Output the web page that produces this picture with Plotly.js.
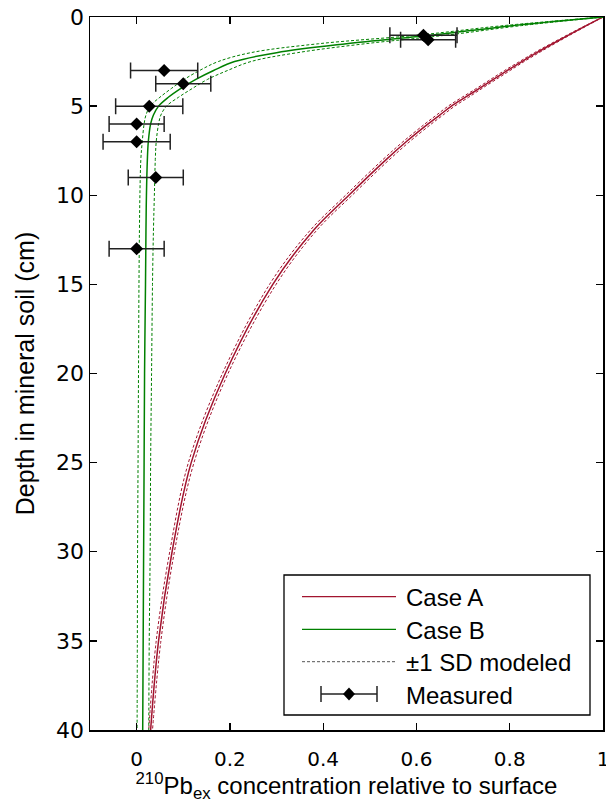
<!DOCTYPE html>
<html>
<head>
<meta charset="utf-8">
<script src="https://cdn.plot.ly/plotly-3.0.1.min.js"></script>
<style>html,body{margin:0;padding:0;background:#fff;}#chart{width:606px;height:803px;}</style>
</head>
<body>
<div id="chart"></div>
<script>
// ---- data ----
var depth = [0, 0.5, 1, 1.5, 2, 2.5, 3, 3.5, 4, 4.5, 5, 5.5, 6, 7, 8, 10, 12, 15, 20, 25, 30, 35, 40];

var caseA    = [1.000, 0.963, 0.927, 0.892, 0.858, 0.826, 0.795, 0.765, 0.735, 0.705, 0.675, 0.650, 0.625, 0.578, 0.535, 0.455, 0.378, 0.292, 0.190, 0.117, 0.076, 0.047, 0.030];
var caseA_lo = [1.000, 0.961, 0.924, 0.888, 0.853, 0.821, 0.789, 0.759, 0.729, 0.698, 0.668, 0.643, 0.618, 0.571, 0.528, 0.448, 0.371, 0.285, 0.184, 0.111, 0.071, 0.042, 0.026];
var caseA_hi = [1.000, 0.965, 0.930, 0.896, 0.863, 0.831, 0.801, 0.771, 0.741, 0.712, 0.682, 0.657, 0.632, 0.585, 0.542, 0.462, 0.385, 0.299, 0.196, 0.123, 0.081, 0.052, 0.034];

var caseB    = [1.000, 0.800, 0.640, 0.450, 0.300, 0.210, 0.165, 0.127, 0.095, 0.068, 0.047, 0.036, 0.030, 0.025, 0.023, 0.021, 0.020, 0.019, 0.017, 0.016, 0.015, 0.014, 0.013];
var caseB_lo = [1.000, 0.780, 0.610, 0.390, 0.245, 0.175, 0.135, 0.102, 0.075, 0.050, 0.029, 0.020, 0.016, 0.012, 0.009, 0.007, 0.006, 0.005, 0.004, 0.003, 0.002, 0.0015, 0.001];
var caseB_hi = [1.000, 0.820, 0.670, 0.490, 0.345, 0.245, 0.195, 0.152, 0.120, 0.090, 0.064, 0.052, 0.047, 0.042, 0.040, 0.038, 0.036, 0.034, 0.032, 0.030, 0.029, 0.027, 0.026];

var measDepth = [1.03, 1.27, 3.0, 3.75, 5.0, 6.0, 7.0, 9.0, 13.0];
var measValue = [0.615, 0.625, 0.059, 0.100, 0.027, 0.000, 0.000, 0.041, 0.000];
var measErr   = [0.072, 0.059, 0.072, 0.059, 0.072, 0.059, 0.072, 0.059, 0.059];

var xTicks = [0, 0.2, 0.4, 0.6, 0.8, 1];
var yTicks = [0, 5, 10, 15, 20, 25, 30, 35, 40];

var legendLabels = ['Case A', 'Case B', '\u00B11 SD modeled', 'Measured'];

// ---- styling ----
var RED = '#a2142f', GREEN = '#008000';
var TICKFONT = 'DejaVu Sans, sans-serif';
var TEXTFONT = 'Liberation Sans, Arial, sans-serif';
var W = 606, H = 803, ML = 90, MR = 3, MT = 17, MB = 73;
var PW = W - ML - MR, PH = H - MT - MB;
function px(p) { return (p - ML) / PW; }
function py(p) { return (H - MB - p) / PH; }

function curve(xs, color, width, dash) {
  return {x: xs, y: depth, type: 'scatter', mode: 'lines', showlegend: false, hoverinfo: 'skip',
          line: {color: color, width: width, dash: dash, shape: 'spline', smoothing: 1}};
}

var traces = [
  curve(caseA_lo, RED, 1, '3px,2px'),
  curve(caseA_hi, RED, 1, '3px,2px'),
  curve(caseA, RED, 1.5, 'solid'),
  curve(caseB_lo, GREEN, 1, '3px,2px'),
  curve(caseB_hi, GREEN, 1, '3px,2px'),
  curve(caseB, GREEN, 1.5, 'solid'),
  {x: measValue, y: measDepth, type: 'scatter', mode: 'markers', showlegend: false,
   marker: {symbol: 'diamond', size: 10, color: '#000'},
   error_x: {type: 'data', array: measErr, visible: true, color: '#222', thickness: 1.5, width: 8}}
];

// ---- custom legend (box + glyphs + labels) ----
var lgX0 = 284, lgX1 = 590, lgY0 = 575, lgY1 = 715;
var rowY = [596.7, 629.3, 661.7, 694];
var shapes = [
  {type: 'rect', xref: 'paper', yref: 'paper', x0: px(lgX0), x1: px(lgX1), y0: py(lgY1), y1: py(lgY0),
   line: {color: '#000', width: 1.3}, fillcolor: '#fff', layer: 'above'},
  {type: 'line', xref: 'paper', yref: 'paper', x0: px(302), x1: px(396), y0: py(rowY[0]), y1: py(rowY[0]),
   line: {color: RED, width: 1.3}, layer: 'above'},
  {type: 'line', xref: 'paper', yref: 'paper', x0: px(302), x1: px(396), y0: py(rowY[1]), y1: py(rowY[1]),
   line: {color: GREEN, width: 1.3}, layer: 'above'},
  {type: 'line', xref: 'paper', yref: 'paper', x0: px(302), x1: px(396), y0: py(rowY[2]), y1: py(rowY[2]),
   line: {color: '#555', width: 1, dash: '3px,2px'}, layer: 'above'},
  {type: 'line', xref: 'paper', yref: 'paper', x0: px(321), x1: px(377), y0: py(rowY[3]), y1: py(rowY[3]),
   line: {color: '#222', width: 1.5}, layer: 'above'},
  {type: 'line', xref: 'paper', yref: 'paper', x0: px(321), x1: px(321), y0: py(rowY[3] - 8), y1: py(rowY[3] + 8),
   line: {color: '#222', width: 1.5}, layer: 'above'},
  {type: 'line', xref: 'paper', yref: 'paper', x0: px(377), x1: px(377), y0: py(rowY[3] - 8), y1: py(rowY[3] + 8),
   line: {color: '#222', width: 1.5}, layer: 'above'},
  {type: 'path', xref: 'paper', yref: 'paper', xsizemode: 'pixel', ysizemode: 'pixel',
   xanchor: px(349), yanchor: py(rowY[3]), path: 'M0,6.5L6,0L0,-6.5L-6,0Z',
   fillcolor: '#000', line: {width: 0}, layer: 'above'}
];
var annotations = legendLabels.map(function (t, i) {
  return {text: t, xref: 'paper', yref: 'paper', x: px(404), y: py(rowY[i] + 1), xanchor: 'left', yanchor: 'middle',
          showarrow: false, font: {family: TEXTFONT, size: 24, color: '#000'}};
});

var axisCommon = {
  showline: true, linecolor: '#000', linewidth: 1.5, mirror: 'allticks',
  ticks: 'inside', ticklen: 7, tickwidth: 1.3, tickcolor: '#000',
  showgrid: false, zeroline: false, ticklabeloverflow: 'allow'
};

var layout = {
  width: W, height: H,
  margin: {l: ML, r: MR, t: MT, b: MB},
  paper_bgcolor: '#fff', plot_bgcolor: '#fff',
  showlegend: false,
  xaxis: Object.assign({}, axisCommon, {
    range: [-0.1, 1], tickvals: xTicks, ticktext: xTicks.map(String),
    tickfont: {family: TICKFONT, size: 20, color: '#000'}, ticklabelstandoff: 10,
    title: {text: '<sup>210</sup>Pb<sub>ex</sub> concentration relative to surface',
            font: {family: TEXTFONT, size: 24, color: '#000'}, standoff: 8}
  }),
  yaxis: Object.assign({}, axisCommon, {
    range: [40, 0], tickvals: yTicks, ticktext: yTicks.map(String),
    tickfont: {family: TICKFONT, size: 22, color: '#000'},
    title: {text: 'Depth in mineral soil (cm)', font: {family: TEXTFONT, size: 25, color: '#000'}, standoff: 14}
  }),
  shapes: shapes,
  annotations: annotations
};

Plotly.newPlot('chart', traces, layout, {displayModeBar: false, staticPlot: true});
</script>
</body>
</html>
